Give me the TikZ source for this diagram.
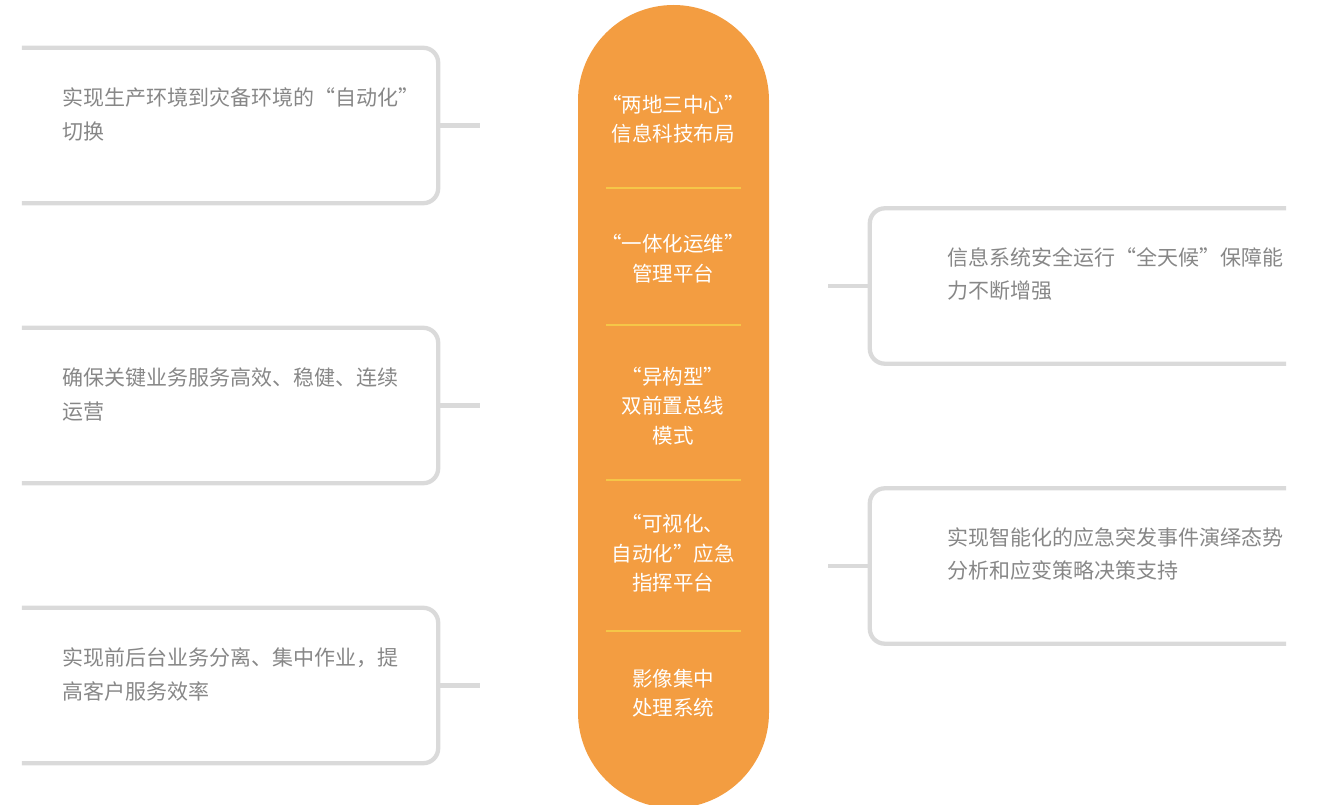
\documentclass[tikz,border=0pt]{standalone}
\usepackage{fontspec}
\newfontfamily\cjk{Noto Sans CJK SC}
\usetikzlibrary{positioning,calc}
\definecolor{pillorange}{RGB}{243,157,65}
\definecolor{divyellow}{RGB}{245,198,72}
\definecolor{boxgray}{RGB}{218,218,218}
\definecolor{txtgray}{RGB}{135,135,135}

\begin{document}
\begin{tikzpicture}[x=1pt,y=-1pt,
    every node/.style={font=\cjk},
    frame/.style={minimum width=416pt,minimum height=155pt,inner sep=0pt},
    edge/.style={draw=boxgray,line width=4.3pt,rounded corners=15pt},
    stub/.style={draw=boxgray,line width=4.3pt},
    note/.style={text=txtgray,align=left,font=\cjk\fontsize{21}{33.5}\selectfont,inner sep=0pt},
    pilltext/.style={text=white,align=center,font=\cjk\fontsize{20.5}{29.5}\selectfont,inner sep=0pt},
    divider/.style={draw=divyellow,line width=2.8pt}]
  \useasboundingbox (0,0) rectangle (1322,805);
  % central pill
  \path[fill=pillorange,rounded corners=95.5pt] (578,5) rectangle (769,808);
  \node[pilltext] (p1) at (673,119) {“两地三中心”\\信息科技布局};
  \node[pilltext] (p2) at (673,258.5) {“一体化运维”\\管理平台};
  \node[pilltext] (p3) at (673,406) {“异构型”\\双前置总线\\模式};
  \node[pilltext] (p4) at (673,553.5) {“可视化、\\自动化”应急\\指挥平台};
  \node[pilltext] (p5) at (673,693) {影像集中\\处理系统};
  \foreach \y in {188,325,480,631}
    \draw[divider] (606,\y) -- (741,\y);
  % left boxes
  \node[frame] (lbox1) at (230,125.5) {};
  \node[frame] (lbox2) at (230,405.5) {};
  \node[frame] (lbox3) at (230,685.5) {};
  \foreach \b in {lbox1,lbox2,lbox3}
    \draw[edge] (\b.north west) -- (\b.north east) -- (\b.south east) -- (\b.south west);
  \node[note,anchor=west] (l1) at (62,114.5) {实现生产环境到灾备环境的“自动化”\\切换};
  \node[note,anchor=west] (l2) at (62,394.5) {确保关键业务服务高效、稳健、连续\\运营};
  \node[note,anchor=west] (l3) at (62,674.5) {实现前后台业务分离、集中作业，提\\高客户服务效率};
  \coordinate (ls1) at (480,125.5);
  \coordinate (ls2) at (480,405.5);
  \coordinate (ls3) at (480,685.5);
  \draw[stub] (lbox1.east) -- (ls1);
  \draw[stub] (lbox2.east) -- (ls2);
  \draw[stub] (lbox3.east) -- (ls3);
  % right boxes
  \node[frame] (rbox1) at (1078,286) {};
  \node[frame] (rbox2) at (1078,566) {};
  \foreach \b in {rbox1,rbox2}
    \draw[edge] (\b.north east) -- (\b.north west) -- (\b.south west) -- (\b.south east);
  \node[note,anchor=west] (r1) at (947,274) {信息系统安全运行“全天候”保障能\\力不断增强};
  \node[note,anchor=west] (r2) at (947,554) {实现智能化的应急突发事件演绎态势\\分析和应变策略决策支持};
  \coordinate (rs1) at (828,286);
  \coordinate (rs2) at (828,566);
  \draw[stub] (rs1) -- (rbox1.west);
  \draw[stub] (rs2) -- (rbox2.west);
\end{tikzpicture}
\end{document}
